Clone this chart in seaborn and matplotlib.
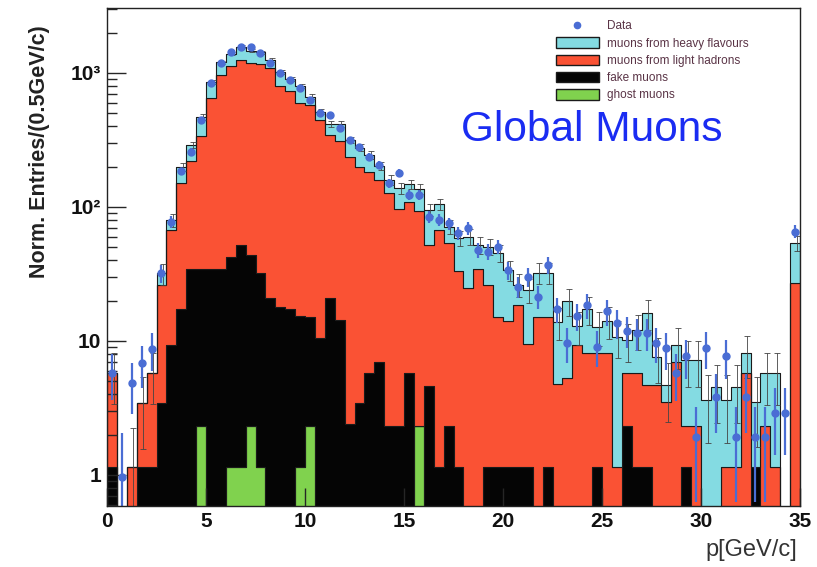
import numpy as np
import pandas as pd
import matplotlib
matplotlib.use("Agg")
import matplotlib.pyplot as plt
from matplotlib.patches import Patch
from matplotlib.lines import Line2D
from matplotlib.ticker import NullFormatter, FixedLocator, LogLocator
import seaborn as sns

# ---------------- data (0.5 GeV/c bins from 0 to 35) ----------------
bin_width = 0.5
p_lo, p_hi = 0.0, 35.0

ghost = [0, 0, 0, 0, 0, 0, 0, 0, 0, 2.32,
         0, 0, 1.15, 1.15, 2.32, 1.15, 0, 0, 0, 1.15,
         2.32, 0, 0, 0, 0, 0, 0, 0, 0, 0,
         0, 2.32, 0, 0, 0, 0, 0, 0, 0, 0,
         0, 0, 0, 0, 0, 0, 0, 0, 0, 0,
         0, 0, 0, 0, 0, 0, 0, 0, 0, 0,
         0, 0, 0, 0, 0, 0, 0, 0, 0, 0]

fake = [1.15, 0, 0, 1.15, 1.15, 3.46, 9.3, 17.3, 34.4, 32.1,
        34.4, 34.4, 41.0, 50.9, 41.5, 30.9, 20.8, 17.9, 17.3, 14.1,
        12.9, 10.5, 20.8, 14.3, 2.40, 3.46, 5.80, 6.93, 2.32, 2.32,
        5.77, 0, 4.61, 1.15, 2.32, 1.15, 0, 0, 1.15, 1.15,
        1.15, 1.15, 1.15, 0, 1.15, 0, 0, 0, 0, 1.15,
        0, 0, 2.32, 1.15, 1.15, 0, 0, 0, 1.15, 0,
        0, 0, 0, 0, 0, 1.15, 0, 0, 0, 0]

light = [4.62, 0, 1.15, 2.30, 4.62, 22.7, 58.0, 133, 184, 305,
         614, 932, 1086, 1198, 1143, 1135, 1068, 784, 717, 582,
         562, 436, 324, 297, 234, 196, 177, 152, 125, 94.4,
         103, 91.1, 47.4, 66.2, 51.6, 32.2, 24.9, 34.4, 25.1, 14.0,
         13.0, 17.5, 8.35, 15.1, 14.0, 4.78, 5.29, 9.33, 8.13, 6.98,
         8.13, 1.15, 3.45, 4.62, 3.55, 4.70, 3.52, 6.97, 1.17, 2.32,
         0, 0, 1.15, 1.15, 5.77, 0, 2.32, 1.15, 0, 27.1]

heavy = [0, 0, 0, 0, 0, 5.8, 12.7, 50, 72, 130,
         213, 236, 258, 320, 273, 260, 161, 210, 168, 196,
         89, 68, 71, 105, 80, 77, 61, 43, 32, 41,
         39, 43, 43, 38, 17.4, 25.4, 35.2, 17.6, 24.4, 30.3,
         19.8, 7.6, 14.5, 17.1, 17.1, 9.1, 14.6, 3.6, 9.1, 4.6,
         6.0, 9.6, 4.4, 6.3, 11.4, 2.94, 1.18, 2.36, 4.9, 4.9,
         3.63, 4.56, 2.48, 3.41, 2.32, 2.37, 3.42, 4.59, 0, 26.8]

mc_err = [2.4, 0, 1.1, 1.9, 2.4, 5.7, 8.9, 14, 17, 22,
          29, 35, 37, 40, 38, 38, 35, 32, 30, 28,
          26, 23, 20, 20, 18, 17, 16, 14, 13, 12,
          12, 12, 9.7, 10, 8.4, 7.7, 7.8, 7.2, 7.1, 6.7,
          5.8, 5.1, 4.9, 5.7, 5.7, 3.7, 4.5, 3.6, 4.1, 3.6,
          3.8, 3.3, 3.2, 3.5, 4.0, 2.8, 2.2, 3.1, 2.7, 2.7,
          1.9, 2.1, 1.9, 2.1, 2.8, 1.9, 2.4, 2.4, 0, 7.3]

data = [5.8, 0.97, 4.86, 6.85, 8.72, 32.0, 77.7, 184, 259, 446,
        838, 1181, 1442, 1570, 1570, 1417, 1181, 1005, 887, 769,
        629, 506, 486, 387, 316, 279, 237, 206, 150, 180,
        123, 123, 84.7, 80.0, 75.5, 63.6, 69.3, 47.8, 46.4, 50.6,
        33.9, 25.4, 30.2, 21.4, 36.9, 17.2, 9.66, 15.4, 18.6, 9.07,
        16.6, 13.6, 11.9, 11.5, 11.5, 9.61, 8.82, 5.74, 7.73, 1.93,
        8.87, 3.84, 7.73, 1.93, 3.84, 1.93, 1.93, 2.92, 2.92, 65.5]

data_err = [2.2, 1.1, 2.0, 2.4, 2.7, 5.1, 7.9, 12, 14, 19,
            26, 31, 34, 36, 36, 34, 31, 29, 27, 25,
            23, 20, 20, 18, 16, 15, 14, 13, 11, 12,
            10, 10, 8.3, 8.0, 7.8, 7.2, 7.5, 6.2, 6.1, 6.4,
            5.2, 4.5, 4.9, 4.2, 5.5, 3.7, 2.8, 3.5, 3.9, 2.7,
            3.7, 3.3, 3.1, 3.1, 3.1, 2.8, 2.7, 2.2, 2.5, 1.3,
            2.7, 1.8, 2.5, 1.3, 1.8, 1.3, 1.3, 1.5, 1.5, 7.3]

labels = ["Data", "muons from heavy flavours", "muons from light hadrons",
          "fake muons", "ghost muons"]
colors = {"muons from heavy flavours": "#84dbe2",
          "muons from light hadrons": "#fa5234",
          "fake muons": "#050505",
          "ghost muons": "#80d24e"}
data_color = "#4a6dd4"

# ---------------- build long-form table ----------------
n_bins = len(data)
centers = p_lo + bin_width * (np.arange(n_bins) + 0.5)
comp = {"muons from heavy flavours": heavy,
        "muons from light hadrons": light,
        "fake muons": fake,
        "ghost muons": ghost}
frames = []
for name, vals in comp.items():
    frames.append(pd.DataFrame({"p": centers, "w": np.asarray(vals, float),
                                "src": name}))
df = pd.concat(frames, ignore_index=True)
total = np.sum([np.array(v, dtype=float) for v in comp.values()], axis=0)

# ---------------- figure ----------------
sns.set_style("ticks")
plt.rcParams["font.family"] = ["Liberation Sans", "DejaVu Sans"]

fig = plt.figure(figsize=(8.17, 5.67), dpi=100)
ax = fig.add_axes([107 / 817, 1 - 506 / 567, (800 - 107) / 817, (506 - 8) / 567])

hue_order = ["muons from heavy flavours", "muons from light hadrons",
             "fake muons", "ghost muons"]
sns.histplot(data=df, x="p", weights="w", hue="src", hue_order=hue_order,
             multiple="stack", binwidth=bin_width, binrange=(p_lo, p_hi),
             element="step", fill=True,
             palette=colors, alpha=1, edgecolor="#1a1a1a", linewidth=0.8,
             legend=False, ax=ax)
ax.set_yscale("log")

# MC stat errors
ax.errorbar(centers + 0.08, total, yerr=mc_err, fmt="none", ecolor="#444444",
            elinewidth=0.6, capsize=2, capthick=0.6, zorder=3)
# data points
ax.errorbar(centers, data, yerr=data_err, fmt="o", color=data_color,
            ecolor=data_color, markersize=5, elinewidth=1.6, capsize=0,
            zorder=4)

ax.set_xlim(p_lo, p_hi)
ax.set_ylim(0.587, 3050)
ax.set_xlabel("")
ax.set_ylabel("")

ax.set_xticks([0, 5, 10, 15, 20, 25, 30, 35])
ax.set_xticklabels(["0", "5", "10", "15", "20", "25", "30", "35"],
                   fontsize=15, fontweight="bold")
ax.yaxis.set_major_locator(FixedLocator([1, 10, 100, 1000]))
ax.set_yticklabels(["1", "10", "10²", "10³"], fontsize=15, fontweight="bold")
ax.yaxis.set_minor_locator(LogLocator(base=10, subs=np.arange(2, 10)))
ax.yaxis.set_minor_formatter(NullFormatter())
ax.tick_params(axis="y", which="major", direction="in", length=14, width=1,
               pad=4, labelcolor="#111111")
ax.tick_params(axis="y", which="minor", direction="in", length=7, width=1)
ax.tick_params(axis="x", which="major", direction="in", length=13, width=1,
               pad=4, labelcolor="#111111")
ax.tick_params(axis="x", which="minor", bottom=False)
ax.set_axisbelow(False)
for s in ax.spines.values():
    s.set_linewidth(1.0)
    s.set_color("#222222")
    s.set_zorder(5)

# axis titles
fig.text(797 / 817, 1 - 550 / 567, "p[GeV/c]", ha="right", va="center",
         fontsize=17, color="#333333")
fig.text(40 / 817, 1 - 152 / 567, "Norm. Entries/(0.5GeV/c)", rotation=90,
         ha="center", va="center", fontsize=15.5, fontweight="bold",
         color="#222222")

# annotation
fig.text(461 / 817, 1 - 141 / 567, "Global Muons", ha="left", va="baseline",
         fontsize=30.5, color="#1a2cf2")

# legend
handles = [Line2D([0], [0], marker="o", linestyle="none", color=data_color,
                  markersize=4.5)]
for name in hue_order:
    handles.append(Patch(facecolor=colors[name], edgecolor="#1a1a1a",
                         linewidth=1.0))
leg = ax.legend(handles, labels, loc="upper left",
                bbox_to_anchor=(556 / 817, 1 - 20 / 567),
                bbox_transform=fig.transFigure, frameon=False, fontsize=8.5,
                handlelength=3.6, handleheight=1.0, labelspacing=0.42,
                handletextpad=0.75, borderpad=0, borderaxespad=0)
for t in leg.get_texts():
    t.set_color("#5a3446")

fig.savefig("out.png", dpi=100)
